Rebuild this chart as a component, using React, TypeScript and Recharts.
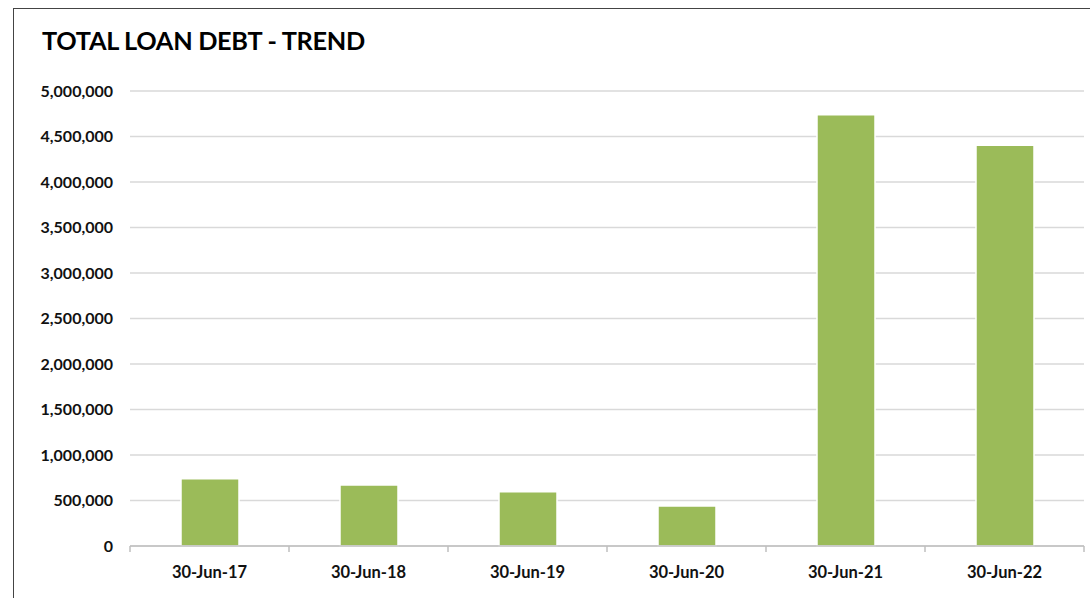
import { BarChart, Bar, XAxis, YAxis, CartesianGrid } from "recharts"

const dates = ["30-Jun-17", "30-Jun-18", "30-Jun-19", "30-Jun-20", "30-Jun-21", "30-Jun-22"]
const debt = [740000, 670000, 595000, 440000, 4740000, 4405000]
const yTicks = [0, 500000, 1000000, 1500000, 2000000, 2500000, 3000000, 3500000, 4000000, 4500000, 5000000]

const data = dates.map((d, i) => ({ date: d, debt: debt[i] }))

const W = 1090
const H = 598
const plotLeft = 130
const plotRight = 1084
const plotBottom = 546
const band = (plotRight - plotLeft) / dates.length
const font = "Lato, 'Open Sans', sans-serif"

function XTick(props: any) {
  const { x, y, payload, index } = props
  const left = x - band / 2
  return (
    <g>
      <line x1={left} y1={y - 8} x2={left} y2={y - 2} stroke="#bfbfbf" strokeWidth={1.5} />
      {index === dates.length - 1 && (
        <line x1={x + band / 2} y1={y - 8} x2={x + band / 2} y2={y - 2} stroke="#bfbfbf" strokeWidth={1.5} />
      )}
      <text x={x} y={y + 24} textAnchor="middle" fontFamily={font} fontWeight={700} fontSize={16.5} fill="#111">
        {payload.value}
      </text>
    </g>
  )
}

export default function App() {
  return (
    <div style={{ position: "absolute", left: 0, top: 0, width: W, height: H, background: "#fff", overflow: "hidden" }}>
      <div
        style={{
          position: "absolute",
          left: 13,
          top: 8,
          width: W,
          height: H,
          borderLeft: "1.5px solid #444",
          borderTop: "1.5px solid #444",
        }}
      />
      <div
        style={{
          position: "absolute",
          left: 42,
          top: 25,
          fontFamily: font,
          fontWeight: 700,
          fontSize: 25.3,
          color: "#000",
          letterSpacing: -0.3,
        }}
      >
        TOTAL LOAN DEBT - TREND
      </div>
      <div style={{ position: "absolute", left: 0, top: 0 }}>
        <BarChart width={W} height={H} data={data} margin={{ top: 91, right: W - plotRight, bottom: 0, left: 10 }}>
          <CartesianGrid vertical={false} stroke="#d9d9d9" strokeWidth={1.5} />
          <XAxis
            dataKey="date"
            axisLine={{ stroke: "#bfbfbf", strokeWidth: 1.5 }}
            tickLine={false}
            tick={<XTick />}
            interval={0}
            height={H - plotBottom}
          />
          <YAxis
            width={plotLeft - 10}
            domain={[0, 5000000]}
            ticks={yTicks}
            interval={0}
            axisLine={false}
            tickLine={false}
            tickSize={0}
            tickMargin={17}
            tickFormatter={(v: number) => v.toLocaleString("en-US")}
            tick={{ fontFamily: font, fontWeight: 700, fontSize: 16, fill: "#111" }}
          />
          <Bar dataKey="debt" fill="#9bbb59" stroke="#fff" strokeWidth={1.5} barSize={58} isAnimationActive={false} />
        </BarChart>
      </div>
    </div>
  )
}
